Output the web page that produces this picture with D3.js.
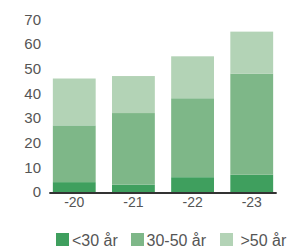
<!DOCTYPE html>
<html>
<head>
<meta charset="utf-8">
<script src="https://cdn.jsdelivr.net/npm/d3@7"></script>
<style>
  html, body { margin: 0; padding: 0; background: #fff; }
  svg { display: block; font-family: "Liberation Sans", Arial, sans-serif; }
</style>
</head>
<body>
<svg id="chart" width="291" height="247"></svg>
<script>
const years = ['-20', '-21', '-22', '-23'];
const seriesNames = ['<30 år', '30-50 år', '>50 år'];
const under30 = [4, 3, 6, 7];
const mid30to50 = [23, 29, 32, 41];
const over50 = [19, 15, 17, 17];
const yTicks = [0, 10, 20, 30, 40, 50, 60, 70];

const colors = ['#3f9f5e', '#7eb788', '#b3d3b6'];

const svg = d3.select('#chart');

// rows for the stack
const rows = years.map((y, i) => ({
  year: y,
  '<30 år': under30[i],
  '30-50 år': mid30to50[i],
  '>50 år': over50[i]
}));
const stacked = d3.stack().keys(seriesNames)(rows);

const x = d3.scaleBand()
  .domain(years)
  .range([49.3, 276.7])
  .paddingInner(0.276)
  .paddingOuter(0.06);

const y = d3.scaleLinear()
  .domain([0, 70])
  .range([192, 19.3]);

// bars
svg.append('g')
  .selectAll('g')
  .data(stacked)
  .enter().append('g')
  .attr('fill', (d, i) => colors[i])
  .selectAll('rect')
  .data(d => d)
  .enter().append('rect')
  .attr('x', d => x(d.data.year))
  .attr('width', x.bandwidth())
  .attr('y', d => y(d[1]))
  .attr('height', d => y(d[0]) - y(d[1]));

// y axis labels (no line)
const yAxis = svg.append('g')
  .attr('transform', 'translate(41,0)')
  .call(d3.axisLeft(y).tickValues(yTicks).tickSize(0).tickPadding(0));
yAxis.select('.domain').remove();
yAxis.selectAll('text')
  .attr('fill', '#555')
  .attr('font-size', 15)
  .attr('font-family', '"Liberation Sans", Arial, sans-serif');

// x axis
const xAxis = svg.append('g')
  .attr('transform', 'translate(0,193)')
  .call(d3.axisBottom(x).tickSize(0).tickPadding(4));
xAxis.select('.domain')
  .attr('d', 'M49.3,0H276.7')
  .attr('stroke', '#333')
  .attr('stroke-width', 2);
xAxis.selectAll('text')
  .attr('fill', '#555')
  .attr('font-size', 14)
  .attr('font-family', '"Liberation Sans", Arial, sans-serif');

// legend
const legendX = [56, 131, 220];
const legendTextX = [72, 146.5, 240.5];
const legend = svg.append('g');
seriesNames.forEach((name, i) => {
  legend.append('rect')
    .attr('x', legendX[i])
    .attr('y', 233)
    .attr('width', 13)
    .attr('height', 13)
    .attr('fill', colors[i]);
  legend.append('text')
    .attr('x', legendTextX[i])
    .attr('y', 245.5)
    .attr('fill', '#555')
    .attr('font-size', 16)
    .text(name);
});
</script>
</body>
</html>
